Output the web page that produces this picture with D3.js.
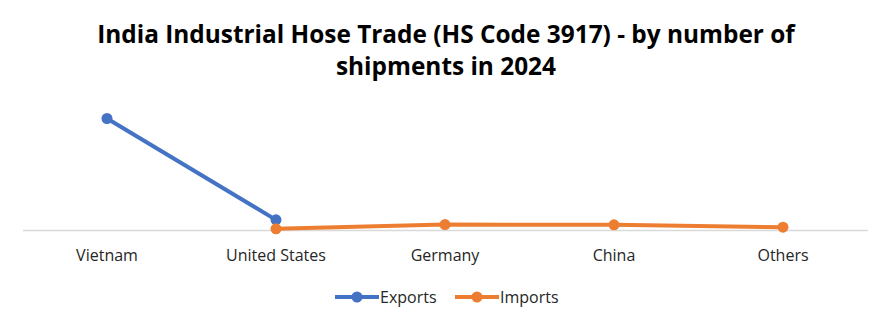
<!DOCTYPE html>
<html><head><meta charset="utf-8">
<script src="https://cdn.jsdelivr.net/npm/d3@7"></script>
<style>body{margin:0;background:#fff}svg{display:block}</style>
</head><body>
<script>
const categories = ["Vietnam", "United States", "Germany", "China", "Others"];
const exportsVals = [1180, 112, null, null, null];
const importsVals = [null, 18, 63, 60, 35];
const seriesNames = ["Exports", "Imports"];
const titleLines = ["India Industrial Hose Trade (HS Code 3917) - by number of", "shipments in 2024"];

const W = 891, H = 327;
const colors = {Exports: "#4472C4", Imports: "#ED7D31"};
const svg = d3.select("body").append("svg").attr("width", W).attr("height", H);

const x = d3.scalePoint().domain(categories).range([107, 783]);
const y = d3.scaleLinear().domain([0, 1180]).range([230.5, 118.5]);

// titles
const tg = svg.append("g");
titleLines.forEach((t, i) => {
  tg.append("text").attr("x", 446).attr("y", 43 + i * 32)
    .attr("text-anchor", "middle")
    .style("font-family", "'Open Sans', sans-serif").style("font-weight", 700)
    .style("font-size", "21px").attr("fill", "#000").text(t);
});
const t0 = tg.select("text").node();
const w0 = t0.getComputedTextLength();
const fs = 21 * 698 / w0;
tg.selectAll("text").style("font-size", fs + "px");

// baseline
svg.append("line").attr("x1", 23).attr("x2", 868)
  .attr("y1", y(0)).attr("y2", y(0)).attr("stroke", "#d9d9d9").attr("stroke-width", 1.3);

// category labels
svg.append("g").selectAll("text").data(categories).join("text")
  .attr("x", d => x(d)).attr("y", 261).attr("text-anchor", "middle")
  .style("font-family", "'Open Sans', sans-serif").style("font-size", "16px")
  .attr("fill", "#262626").text(d => d);

const series = [
  {name: "Exports", vals: exportsVals},
  {name: "Imports", vals: importsVals}
];
const line = d3.line().defined(d => d.v != null).x(d => x(d.c)).y(d => y(d.v));
series.forEach(s => {
  const pts = categories.map((c, i) => ({c, v: s.vals[i]}));
  svg.append("path").datum(pts).attr("d", line).attr("fill", "none")
    .attr("stroke", colors[s.name]).attr("stroke-width", 4).attr("stroke-linejoin", "round");
  svg.append("g").selectAll("circle").data(pts.filter(d => d.v != null)).join("circle")
    .attr("cx", d => x(d.c)).attr("cy", d => y(d.v)).attr("r", 5.5).attr("fill", colors[s.name]);
});

// legend
const legX = [335, 455];
seriesNames.forEach((n, i) => {
  const g = svg.append("g").attr("transform", `translate(${legX[i]},297)`);
  g.append("line").attr("x1", 0).attr("x2", 44).attr("stroke", colors[n]).attr("stroke-width", 4);
  g.append("circle").attr("cx", 22).attr("r", 5.5).attr("fill", colors[n]);
  g.append("text").attr("x", 45).attr("y", 6)
    .style("font-family", "'Open Sans', sans-serif").style("font-size", "16px")
    .attr("fill", "#262626").text(n);
});
</script>
</body></html>
